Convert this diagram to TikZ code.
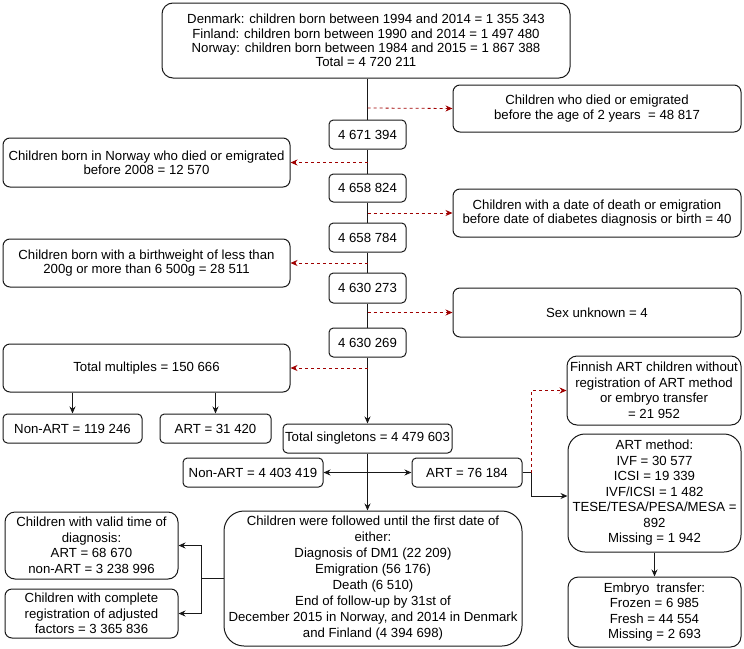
\documentclass[tikz,border=0pt]{standalone}
\usepackage{fontspec}
\setmainfont{Liberation Sans}
\usetikzlibrary{arrows.meta}
\definecolor{dred}{RGB}{160,0,0}
\definecolor{lin}{RGB}{25,25,25}
\begin{document}
\begin{tikzpicture}[x=1pt,y=-1pt,
  box/.style={draw=lin, line width=1pt, align=center, inner sep=0pt,
    font=\fontsize{13.2}{15.5}\selectfont, text=black},
  arr/.style={draw=lin, line width=1pt, -{Stealth[length=7pt,width=6pt]}},
  plain/.style={draw=lin, line width=1pt},
  redarr/.style={draw=dred, line width=0.8pt, dash pattern=on 3pt off 3pt, -{Stealth[length=7pt,width=6pt]}}]
\useasboundingbox (0,0) rectangle (744,648);
% main column
\node[box, rounded corners=11pt, minimum width=408pt, minimum height=75pt, font=\fontsize{13.2}{14.2}\selectfont] (top) at (366,40.5)
 {Denmark: children born between 1994 and 2014 = 1 355 343\\Finland: children born between 1990 and 2014 = 1 497 480\\Norway: children born between 1984 and 2015 = 1 867 388\\Total = 4 720 211};
\node[box, rounded corners=4.4pt, minimum width=77pt, minimum height=29pt] (n1) at (367.5,134.5) {4 671 394};
\node[box, rounded corners=4.4pt, minimum width=77pt, minimum height=28pt] (n2) at (367.5,188) {4 658 824};
\node[box, rounded corners=4.4pt, minimum width=77pt, minimum height=29pt] (n3) at (367.5,237.5) {4 658 784};
\node[box, rounded corners=4.4pt, minimum width=77pt, minimum height=30pt] (n4) at (367.5,288) {4 630 273};
\node[box, rounded corners=4.4pt, minimum width=77pt, minimum height=29pt] (n5) at (367.5,342.5) {4 630 269};
% right exclusion boxes
\node[box, rounded corners=7pt, minimum width=288pt, minimum height=47pt, font=\fontsize{13.2}{14.2}\selectfont] (r1) at (597,108.5) {Children who died or emigrated\\before the age of 2 years \ = 48 817};
\node[box, rounded corners=7pt, minimum width=288pt, minimum height=48pt, font=\fontsize{13.2}{14.2}\selectfont] (r2) at (597,213) {Children with a date of death or emigration\\before date of diabetes diagnosis or birth = 40};
\node[box, rounded corners=7pt, minimum width=288pt, minimum height=49pt] (r3) at (597,312.5) {Sex unknown = 4};
% left exclusion boxes
\node[box, rounded corners=7pt, minimum width=287pt, minimum height=49pt, font=\fontsize{13.2}{14.2}\selectfont] (l1) at (146.5,162.5) {Children born in Norway who died or emigrated\\before 2008 = 12 570};
\node[box, rounded corners=7pt, minimum width=287pt, minimum height=48pt, font=\fontsize{13.2}{14.2}\selectfont] (l2) at (146.5,263) {Children born with a birthweight of less than\\200g or more than 6 500g = 28 511};
\node[box, rounded corners=7pt, minimum width=287pt, minimum height=48pt] (l3) at (146.5,368) {Total multiples = 150 666};
\node[box, rounded corners=4.4pt, minimum width=139pt, minimum height=29pt] (m1) at (72.5,428.5) {Non-ART = 119 246};
\node[box, rounded corners=4.4pt, minimum width=111pt, minimum height=29pt] (m2) at (215.5,428.5) {ART = 31 420};
% singletons
\node[box, rounded corners=4.4pt, minimum width=169pt, minimum height=29pt] (sing) at (367.5,438.5) {Total singletons = 4 479 603};
\node[box, rounded corners=4.4pt, minimum width=140pt, minimum height=29pt] (na) at (253,472.5) {Non-ART = 4 403 419};
\node[box, rounded corners=4.4pt, minimum width=110pt, minimum height=29pt] (art) at (467,472.5) {ART = 76 184};
% right ART boxes
\node[box, rounded corners=10pt, minimum width=174pt, minimum height=69pt] (fin) at (654,390.5) {Finnish ART children without\\registration of ART method\\or embryo transfer\\= 21 952};
\node[box, rounded corners=17pt, minimum width=173pt, minimum height=118pt] (meth) at (654.5,493) {ART method:\\IVF = 30 577\\ICSI = 19 339\\IVF/ICSI = 1 482\\TESE/TESA/PESA/MESA =\\892\\Missing = 1 942};
\node[box, rounded corners=10.5pt, minimum width=173pt, minimum height=70pt] (emb) at (654.5,612) {Embryo\ \ transfer:\\Frozen = 6 985\\Fresh = 44 554\\Missing = 2 693};
% follow-up
\node[box, rounded corners=20pt, minimum width=298pt, minimum height=135pt, font=\fontsize{13.2}{16}\selectfont] (fol) at (373,578.5) {Children were followed until the first date of\\either:\\Diagnosis of DM1 (22 209)\\Emigration (56 176)\\Death (6 510)\\End of follow-up by 31st of\\December 2015 in Norway, and 2014 in Denmark\\and Finland (4 394 698)};
\node[box, rounded corners=10pt, minimum width=173pt, minimum height=67pt] (val) at (91.5,545.5) {Children with valid time of\\diagnosis:\\ART = 68 670\\non-ART = 3 238 996};
\node[box, rounded corners=7pt, minimum width=173pt, minimum height=49pt] (comp) at (91.5,613.5) {Children with complete\\registration of adjusted\\factors = 3 365 836};
% main line
\draw[plain] (top.south -| n1) -- (n1.north);
\draw[plain] (n1.south) -- (n2.north);
\draw[plain] (n2.south) -- (n3.north);
\draw[plain] (n3.south) -- (n4.north);
\draw[plain] (n4.south) -- (n5.north);
\draw[arr] (n5.south) -- (sing.north);
% exclusion arrows
\coordinate (d1) at (367.5,108);
\coordinate (d2) at (367.5,162.5);
\coordinate (d3) at (367.5,213);
\coordinate (d4) at (367.5,263);
\coordinate (d5) at (367.5,312.5);
\coordinate (d6) at (367.5,368);
\draw[redarr] (d1) -- (r1.west);
\draw[redarr] (d2) -- (l1.east);
\draw[redarr] (d3) -- (r2.west);
\draw[redarr] (d4) -- (l2.east);
\draw[redarr] (d5) -- (r3.west);
\draw[redarr] (d6) -- (l3.east);
% multiples
\draw[arr] (m1 |- l3.south) -- (m1.north);
\draw[arr] (m2 |- l3.south) -- (m2.north);
% singletons split
\coordinate (sp) at (367.5,472.5);
\draw[arr] (sp) -- (na.east);
\draw[arr] (sp) -- (art.west);
\draw[arr] (sing.south) -- (fol.north -| sing);
% ART to method
\coordinate (bend) at (531,472.5);
\draw[arr] (art.east) -- (bend) -- (531,496) -- (meth.west |- 0,496);
\draw[redarr] (bend) |- (fin.west);
\draw[arr] (meth.south) -- (emb.north);
% follow-up to results
\coordinate (j) at (201,578.5);
\draw[plain] (fol.west) -- (j);
\draw[arr] (j) |- (val.east);
\draw[arr] (j) |- (comp.east);
\end{tikzpicture}
\end{document}
